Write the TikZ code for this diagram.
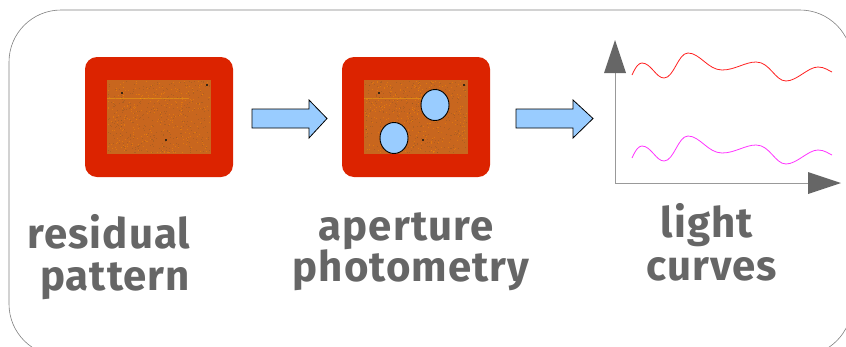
\documentclass[tikz,border=0pt]{standalone}
\usepackage{fontspec}
\setmainfont{Fira Sans}[LetterSpace=2.5]
\usetikzlibrary{shapes.geometric}
\definecolor{framered}{HTML}{DC2300}
\definecolor{texorange}{HTML}{C8661E}
\definecolor{aperblue}{HTML}{99CCFF}
\definecolor{labelgray}{HTML}{666666}
\definecolor{curvered}{HTML}{FF2020}
\definecolor{curvemag}{HTML}{FF33FF}
\tikzset{
  px/.style={x=1pt,y=-1pt},
  frame/.style={fill=framered, rounded corners=12pt},
  stepbox/.style={fill=texorange},
  aperture/.style={draw=black, fill=aperblue, line width=0.9pt, ellipse,
    minimum width=28pt, minimum height=31pt, inner sep=0pt},
  flow/.style={draw=black, fill=aperblue, line width=0.8pt, line join=miter},
  axis/.style={draw=gray!80, line width=1pt},
  tiphead/.style={fill=labelgray},
  label/.style={text=labelgray, font=\fontsize{42}{42}\selectfont\bfseries,
    anchor=base, inner sep=0pt}
}
\begin{document}
\begin{tikzpicture}[px]
\useasboundingbox (0,0) rectangle (846,346);
% outer panel
\draw[gray, line width=0.6pt, rounded corners=52pt] (9,10) rectangle (852,356);

% residual image frames with a speckled inner image
\pgfmathsetseed{7}
\foreach \fx/\ix in {85/107, 342/364}{
  \fill[frame] (\fx,57) rectangle ++(148,120);
  \fill[stepbox] (\ix,80) rectangle ++(104,74);
  \foreach \k in {1,...,650}{
    \pgfmathsetmacro{\rx}{\ix+0.5+rnd*102}
    \pgfmathsetmacro{\ry}{80.5+rnd*72}
    \pgfmathsetmacro{\rc}{rnd}
    \ifdim\rc pt>0.55pt
      \fill[orange!90!yellow, opacity=0.45] (\rx,\ry) rectangle ++(1,1);
    \else
      \fill[brown!60!black, opacity=0.3] (\rx,\ry) rectangle ++(1,1);
    \fi
  }
  \fill[black!70!brown] (\ix+14,92) rectangle ++(2,2);
  \fill[black!70!brown] (\ix+58,139) rectangle ++(2,2);
  \fill[black!70!brown] (\ix+99,84) rectangle ++(2,1.5);
  \draw[yellow!50!orange, line width=0.4pt, opacity=0.4] (\ix,98) -- ++(82,0);
}

% apertures
\node[aperture] (ap1) at (435,105) {};
\node[aperture] (ap2) at (394,138) {};

% flow arrows
\draw[flow] (252,109) -- (309,109) -- (309,100) -- (327,118.5) -- (309,138)
  -- (309,128) -- (252,128) -- cycle;
\draw[flow] (516,109) -- (573,109) -- (573,100) -- (593,118.5) -- (573,138)
  -- (573,128) -- (516,128) -- cycle;

% light-curve axes
\coordinate (org) at (615,183);
\coordinate (ytip) at (615,40);
\coordinate (xtip) at (841,183);
\draw[axis] (org) -- (615,73);
\draw[axis] (org) -- (808,183);
\fill[tiphead] (ytip) -- (626,73) -- (604,73) -- cycle;
\fill[tiphead] (xtip) -- (808,194) -- (808,172) -- cycle;

% light curves
\foreach \dy/\col in {0/curvered, 83/curvemag}{
  \draw[\col, line width=0.8pt, yshift=-\dy pt]
    (632,75) .. controls (636,66) and (639,63) .. (642,63)
    .. controls (651,63) and (656,78) .. (664,78)
    .. controls (674,78) and (678,53) .. (688,53)
    .. controls (700,53) and (708,70) .. (722,70)
    .. controls (735,70) and (745,62) .. (756,62)
    .. controls (770,62) and (775,81) .. (786,81)
    .. controls (797,81) and (808,67) .. (818,67)
    .. controls (825,67) and (829,71) .. (832,72);
}

% captions
\node[label] (t1a) at (109,248) {residual};
\node[label] (t1b) at (115,290) {pattern};
\node[label] (t2a) at (406,240) {aperture};
\node[label] (t2b) at (411,281) {photometry};
\node[label] (t3a) at (707,237) {light};
\node[label] (t3b) at (712,280) {curves};
\end{tikzpicture}
\end{document}
